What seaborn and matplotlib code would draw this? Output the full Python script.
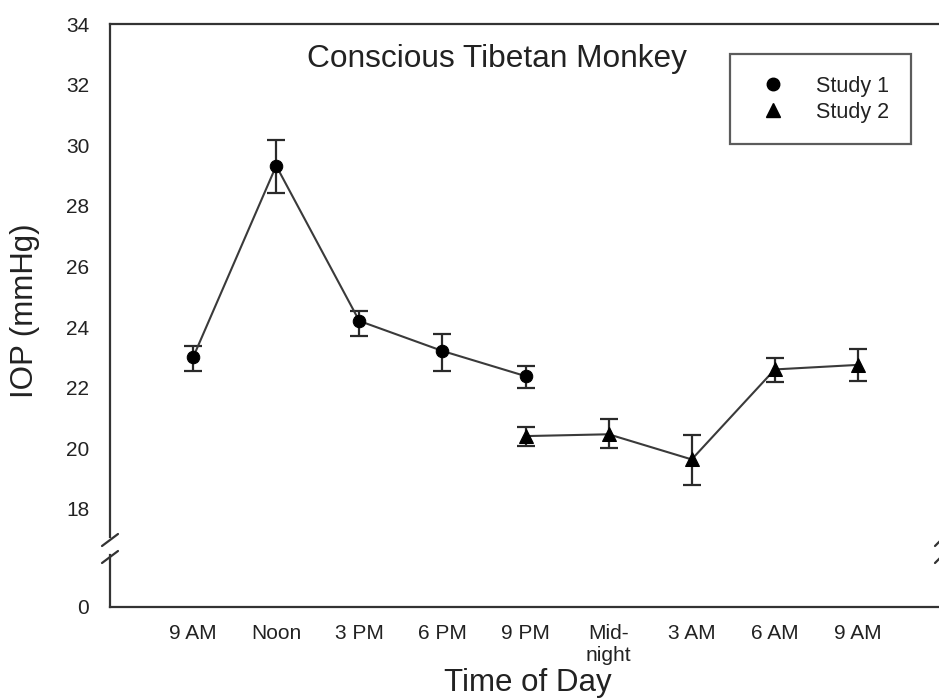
import numpy as np
import pandas as pd
import matplotlib
matplotlib.use("Agg")
import matplotlib.pyplot as plt
from matplotlib.lines import Line2D
import seaborn as sns

# ---- data ----
time_labels = ["9 AM", "Noon", "3 PM", "6 PM", "9 PM", "Mid-\nnight", "3 AM", "6 AM", "9 AM"]

study1_idx = [0, 1, 2, 3, 4]
study1_mean = [23.00, 29.32, 24.20, 23.21, 22.38]
study1_low = [22.56, 28.41, 23.70, 22.56, 21.99]
study1_high = [23.38, 30.17, 24.54, 23.76, 22.72]

study2_idx = [4, 5, 6, 7, 8]
study2_mean = [20.40, 20.46, 19.63, 22.60, 22.75]
study2_low = [20.08, 20.02, 18.80, 22.20, 22.23]
study2_high = [20.69, 20.95, 20.44, 22.97, 23.26]

y_ticks_upper = [18, 20, 22, 24, 26, 28, 30, 32, 34]
y_ticks_lower = [0]

sns.set_theme(style="white")
plt.rcParams["font.family"] = ["Liberation Sans", "DejaVu Sans"]
txt = "#222222"
plt.rcParams["text.color"] = txt
plt.rcParams["axes.labelcolor"] = txt

W, H = 939, 698
fig = plt.figure(figsize=(W / 100, H / 100), dpi=100)
fig.patch.set_facecolor("white")

left_px, right_px = 110, 941
top_px, upper_bottom_px = 24, 537
lower_top_px, lower_bottom_px = 555, 607
px_per_unit = (upper_bottom_px - top_px) / (34 - 17.07)

def fx(p):
    return p / W

def fy(p):
    return 1 - p / H

ax_up = fig.add_axes([fx(left_px), fy(upper_bottom_px), fx(right_px - left_px), (upper_bottom_px - top_px) / H])
ax_lo = fig.add_axes([fx(left_px), fy(lower_bottom_px), fx(right_px - left_px), (lower_bottom_px - lower_top_px) / H])

spine_c = "#333333"
lw = 1.6

d1 = pd.DataFrame({"x": study1_idx, "y": study1_mean})
d2 = pd.DataFrame({"x": study2_idx, "y": study2_mean})

for d, lo, hi, mk, ms in [(d1, study1_low, study1_high, "o", 9),
                          (d2, study2_low, study2_high, "^", 10)]:
    sns.lineplot(data=d, x="x", y="y", ax=ax_up, color="#3a3a3a", linewidth=1.5,
                 marker=mk, markersize=ms, markerfacecolor="black",
                 markeredgecolor="black", legend=False, zorder=3)
    yerr = np.array([np.array(d["y"]) - np.array(lo), np.array(hi) - np.array(d["y"])])
    ax_up.errorbar(d["x"], d["y"], yerr=yerr, fmt="none", ecolor="#2a2a2a",
                   elinewidth=1.6, capsize=6.5, capthick=1.6, zorder=2)

ax_up.set_ylim(17.07, 34)
ax_lo.set_ylim(0, (lower_bottom_px - lower_top_px) / px_per_unit)
for a in (ax_up, ax_lo):
    a.set_xlim(-1, 9)
    a.set_facecolor("white")
    a.tick_params(axis="both", direction="out", length=7, width=1.4,
                  labelsize=15, colors="#333333", labelcolor=txt)
    a.tick_params(axis="y", pad=8)
    a.tick_params(axis="x", pad=5)
    for s in a.spines.values():
        s.set_color(spine_c)
        s.set_linewidth(lw)
    a.spines["right"].set_visible(False)
    a.set_xlabel("")
    a.set_ylabel("")

ax_up.spines["bottom"].set_visible(False)
ax_up.set_xticks([])
ax_up.set_yticks(y_ticks_upper)
ax_up.set_yticklabels([str(v) for v in y_ticks_upper])

ax_lo.spines["top"].set_visible(False)
ax_lo.set_yticks(y_ticks_lower)
ax_lo.set_yticklabels([str(v) for v in y_ticks_lower])
ax_lo.set_xticks(list(range(-1, len(time_labels))))
ax_lo.set_xticklabels([""] + time_labels, linespacing=1.25)

# break marks
kw = dict(transform=fig.transFigure, color="#333333", linewidth=1.6, clip_on=False)
for yb in (540, 557):
    fig.add_artist(Line2D([fx(left_px - 8), fx(left_px + 8)], [fy(yb + 6), fy(yb - 6)], **kw))
    fig.add_artist(Line2D([fx(935), fx(945)], [fy(yb + 6), fy(yb - 4)], **kw))

# title inside plot
ax_up.text(0.466, 0.932, "Conscious Tibetan Monkey", transform=ax_up.transAxes,
           ha="center", va="center", fontsize=22.8, color=txt)

# legend
handles = [Line2D([], [], marker="o", linestyle="none", color="black", markersize=9),
           Line2D([], [], marker="^", linestyle="none", color="black", markersize=10)]
leg = ax_up.legend(handles, ["Study 1", "Study 2"], loc="upper left",
                   bbox_to_anchor=((730 - left_px) / (right_px - left_px), (upper_bottom_px - 54) / (upper_bottom_px - top_px)),
                   fontsize=15.5, frameon=True, fancybox=False, handletextpad=1.0,
                   borderpad=1.0, labelspacing=0.25, borderaxespad=0, handlelength=2.0)
leg.get_frame().set_edgecolor("#333333")
leg.get_frame().set_linewidth(1.6)

fig.text(fx(25), fy(311), "IOP (mmHg)", rotation=90, ha="center", va="center", fontsize=22.5, color=txt)
fig.text(fx(528), fy(683), "Time of Day", ha="center", va="center", fontsize=22.5, color=txt)

fig.savefig("out.png", dpi=100, facecolor="white")
